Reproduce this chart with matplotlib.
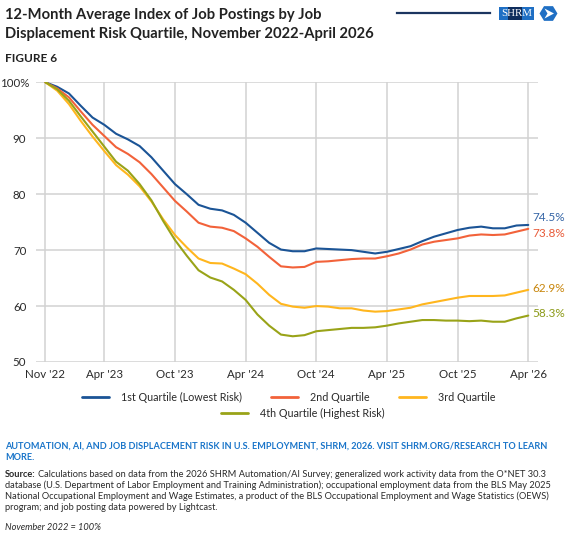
import matplotlib
matplotlib.use('Agg')
import matplotlib.pyplot as plt
from matplotlib.patches import Rectangle, RegularPolygon, Polygon
from matplotlib.lines import Line2D
import matplotlib.transforms as mtransforms

plt.rcParams['font.family'] = ['Lato', 'DejaVu Sans']

# ---------------- data ----------------
month_index = list(range(42))  # Nov 2022 .. Apr 2026
tick_positions = [0, 5, 11, 17, 23, 29, 35, 41]
tick_labels = ["Nov '22", "Apr '23", "Oct '23", "Apr '24", "Oct '24", "Apr '25", "Oct '25", "Apr '26"]
y_ticks = [50, 60, 70, 80, 90, 100]
y_tick_labels = ["50", "60", "70", "80", "90", "100%"]

q1_lowest = [100, 99.2, 98.0, 95.8, 93.7, 92.4, 90.8, 89.8, 88.6, 86.6, 84.2, 81.8,
             80.0, 78.1, 77.4, 77.1, 76.3, 74.9, 73.1, 71.3, 70.1, 69.8, 69.8, 70.3,
             70.2, 70.1, 70.0, 69.7, 69.4, 69.7, 70.2, 70.7, 71.6, 72.4, 73.0, 73.6,
             74.0, 74.2, 73.9, 73.9, 74.4, 74.5]
q2 = [100, 98.9, 97.3, 94.8, 92.4, 90.4, 88.4, 87.2, 85.7, 83.6, 81.2, 78.8,
      76.9, 74.9, 74.2, 74.0, 73.4, 72.1, 70.6, 68.8, 67.1, 66.9, 67.0, 67.9,
      68.0, 68.2, 68.4, 68.5, 68.5, 68.9, 69.4, 70.1, 71.0, 71.5, 71.8, 72.1,
      72.6, 72.8, 72.7, 72.8, 73.3, 73.8]
q3 = [100, 98.5, 96.1, 93.1, 90.3, 87.7, 85.2, 83.5, 81.4, 78.7, 75.5, 72.7,
      70.5, 68.5, 67.7, 67.6, 66.7, 65.7, 64.0, 62.0, 60.4, 59.9, 59.7, 60.0,
      59.9, 59.6, 59.6, 59.2, 59.0, 59.1, 59.4, 59.7, 60.3, 60.7, 61.1, 61.5,
      61.8, 61.8, 61.8, 61.9, 62.4, 62.9]
q4_highest = [100, 98.75, 96.7, 93.9, 91.2, 88.5, 85.8, 84.2, 81.8, 78.9, 75.2, 71.8,
              69.0, 66.4, 65.1, 64.4, 62.9, 61.1, 58.5, 56.5, 54.9, 54.6, 54.8, 55.5,
              55.7, 55.9, 56.1, 56.1, 56.2, 56.5, 56.9, 57.2, 57.5, 57.5, 57.4, 57.4,
              57.3, 57.4, 57.2, 57.2, 57.8, 58.3]

series_names = ["1st Quartile (Lowest Risk)", "2nd Quartile", "3rd Quartile", "4th Quartile (Highest Risk)"]
series_values = [q1_lowest, q2, q3, q4_highest]
end_labels = ["74.5%", "73.8%", "62.9%", "58.3%"]

# ---------------- style ----------------
line_colors = ['#1b5496', '#f2623a', '#ffb61e', '#99a318']
label_colors = ['#3565a6', '#e85a38', '#c8860c', '#8c9a18']
label_dy = [5.6, -3.3, 1.3, 1.6]  # points

W, H = 569, 539
fig = plt.figure(figsize=(W / 100, H / 100), dpi=100)
renderer = fig.canvas.get_renderer()


def fx(x):
    return x / W


def fy(y):
    return 1 - y / H


def fit_width(t, target):
    for _ in range(4):
        w = t.get_window_extent(renderer).width
        t.set_fontsize(t.get_fontsize() * target / w)
    return t.get_fontsize()


# ---------------- axes ----------------
ax = fig.add_axes([fx(36), fy(362), (537.7 - 36) / W, (362 - 82.3) / H])
ax.set_xlim(-0.8, 41.8)
ax.set_ylim(50, 100)

handles = []
for name, vals, c in zip(series_names, series_values, line_colors):
    h, = ax.plot(month_index, vals, color=c, lw=1.5, solid_capstyle='round', label=name, zorder=3)
    handles.append(h)

for vals, lab, c, dy in zip(series_values, end_labels, label_colors, label_dy):
    ax.annotate(lab, xy=(month_index[-1], vals[-1]), xytext=(3, dy), textcoords='offset points',
                ha='left', va='center', fontsize=8.5, color=c)

ax.set_xticks(tick_positions)
ax.set_xticklabels(tick_labels)
ax.set_yticks(y_ticks)
ax.set_yticklabels(y_tick_labels)
ax.tick_params(axis='both', length=0, labelsize=8.3, colors='#2a2a2a')
ax.tick_params(axis='y', pad=7)
ax.tick_params(axis='x', pad=5)
ax.grid(True, color='#d2d2d2', lw=1.1)
ax.set_axisbelow(True)
for s in ax.spines.values():
    s.set_visible(False)

# shift the "100%" label so the % hangs to the right
lab100 = ax.get_yticklabels()[-1]
lab100.set_transform(lab100.get_transform() + mtransforms.ScaledTranslation(3.5 / 100, 0, fig.dpi_scale_trans))

# ---------------- legend ----------------
tmp = fig.text(0, 0, series_names[0], fontsize=8)
lfs = fit_width(tmp, 120.5)
tmp.remove()
px2pt = 0.72
leg_kw = dict(frameon=False, handlelength=27 * px2pt / lfs, handletextpad=12 * px2pt / lfs,
              columnspacing=29 * px2pt / lfs, fontsize=lfs, borderpad=0, borderaxespad=0,
              labelcolor='#2a2a2a')
leg1 = fig.legend(handles[:3], series_names[:3], loc='center', ncol=3,
                  bbox_to_anchor=(fx(288.6), fy(397)), **leg_kw)
leg2 = fig.legend(handles[3:], series_names[3:], loc='center', ncol=1,
                  bbox_to_anchor=(fx(302.7), fy(413)), **leg_kw)
for lg in (leg1, leg2):
    for ln in lg.get_lines():
        ln.set_linewidth(2.0)

# ---------------- titles ----------------
title_color = '#222222'
t1 = fig.text(fx(5), fy(14.5), "12-Month Average Index of Job Postings by Job", fontsize=12,
              fontweight='bold', color=title_color, va='center', ha='left')
fs = fit_width(t1, 317)
t2 = fig.text(fx(5), fy(34), "Displacement Risk Quartile, November 2022-April 2026", fontsize=fs,
              fontweight='bold', color=title_color, va='center', ha='left')
t3 = fig.text(fx(5), fy(58), "FIGURE 6", fontsize=8, fontweight='bold', color=title_color,
              va='center', ha='left')
fit_width(t3, 52)

# ---------------- logo ----------------
fig.add_artist(Line2D([fx(397), fx(490)], [fy(13.3), fy(13.3)], color='#1b3560', lw=1.6))
fig.add_artist(Rectangle((fx(499), fy(20)), 35 / W, 13 / H, facecolor='#1f6fc4', edgecolor='none'))
fig.add_artist(Rectangle((fx(508), fy(20)), 14 / W, 13 / H, facecolor='#0f2d5c', edgecolor='none'))
fig.text(fx(516.5), fy(13.5), "SHRM", fontsize=7.8, family='Liberation Serif', color='white',
         ha='center', va='center')
fig.add_artist(RegularPolygon((fx(548.5), fy(13.5)), numVertices=6, radius=8.5 / H,
                              orientation=0.5236, facecolor='#1f6fc4', edgecolor='none',
                              transform=fig.transFigure))
fig.add_artist(Polygon([(fx(544.5), fy(8.5)), (fx(554), fy(13.5)), (fx(544.5), fy(18.5)), (fx(547.5), fy(13.5))],
                       closed=True, facecolor='white', edgecolor='none', transform=fig.transFigure))

# ---------------- footer ----------------
f1 = fig.text(fx(5), fy(446), "AUTOMATION, AI, AND JOB DISPLACEMENT RISK IN U.S. EMPLOYMENT, SHRM, 2026. VISIT SHRM.ORG/RESEARCH TO LEARN",
              fontsize=7, fontweight='bold', color='#1a75c9', va='center', ha='left')
ffs = fit_width(f1, 541)
fig.text(fx(5), fy(457.5), "MORE.", fontsize=ffs, fontweight='bold', color='#1a75c9', va='center', ha='left')

src_lines = [
    "database (U.S. Department of Labor Employment and Training Administration); occupational employment data from the BLS May 2025",
    "National Occupational Employment and Wage Estimates, a product of the BLS Occupational Employment and Wage Statistics (OEWS)",
    "program; and job posting data powered by Lightcast.",
]
s3 = fig.text(fx(5), fy(496.5), src_lines[1], fontsize=6.5, color='#2a2a2a', va='center', ha='left')
sfs = fit_width(s3, 541)
fig.text(fx(5), fy(485.5), src_lines[0], fontsize=sfs, color='#2a2a2a', va='center', ha='left')
fig.text(fx(5), fy(507.5), src_lines[2], fontsize=sfs, color='#2a2a2a', va='center', ha='left')
sb = fig.text(fx(5), fy(474.5), "Source:", fontsize=sfs, fontweight='bold', color='#2a2a2a', va='center', ha='left')
sbw = sb.get_window_extent(renderer).width
fig.text(fx(5) + (sbw + 2.5) / W, fy(474.5),
         "Calculations based on data from the 2026 SHRM Automation/AI Survey; generalized work activity data from the O*NET 30.3",
         fontsize=sfs, color='#2a2a2a', va='center', ha='left')
fig.text(fx(5), fy(527), "November 2022 = 100%", fontsize=sfs, style='italic', color='#2a2a2a',
         va='center', ha='left')

fig.savefig('out.png', dpi=100)
